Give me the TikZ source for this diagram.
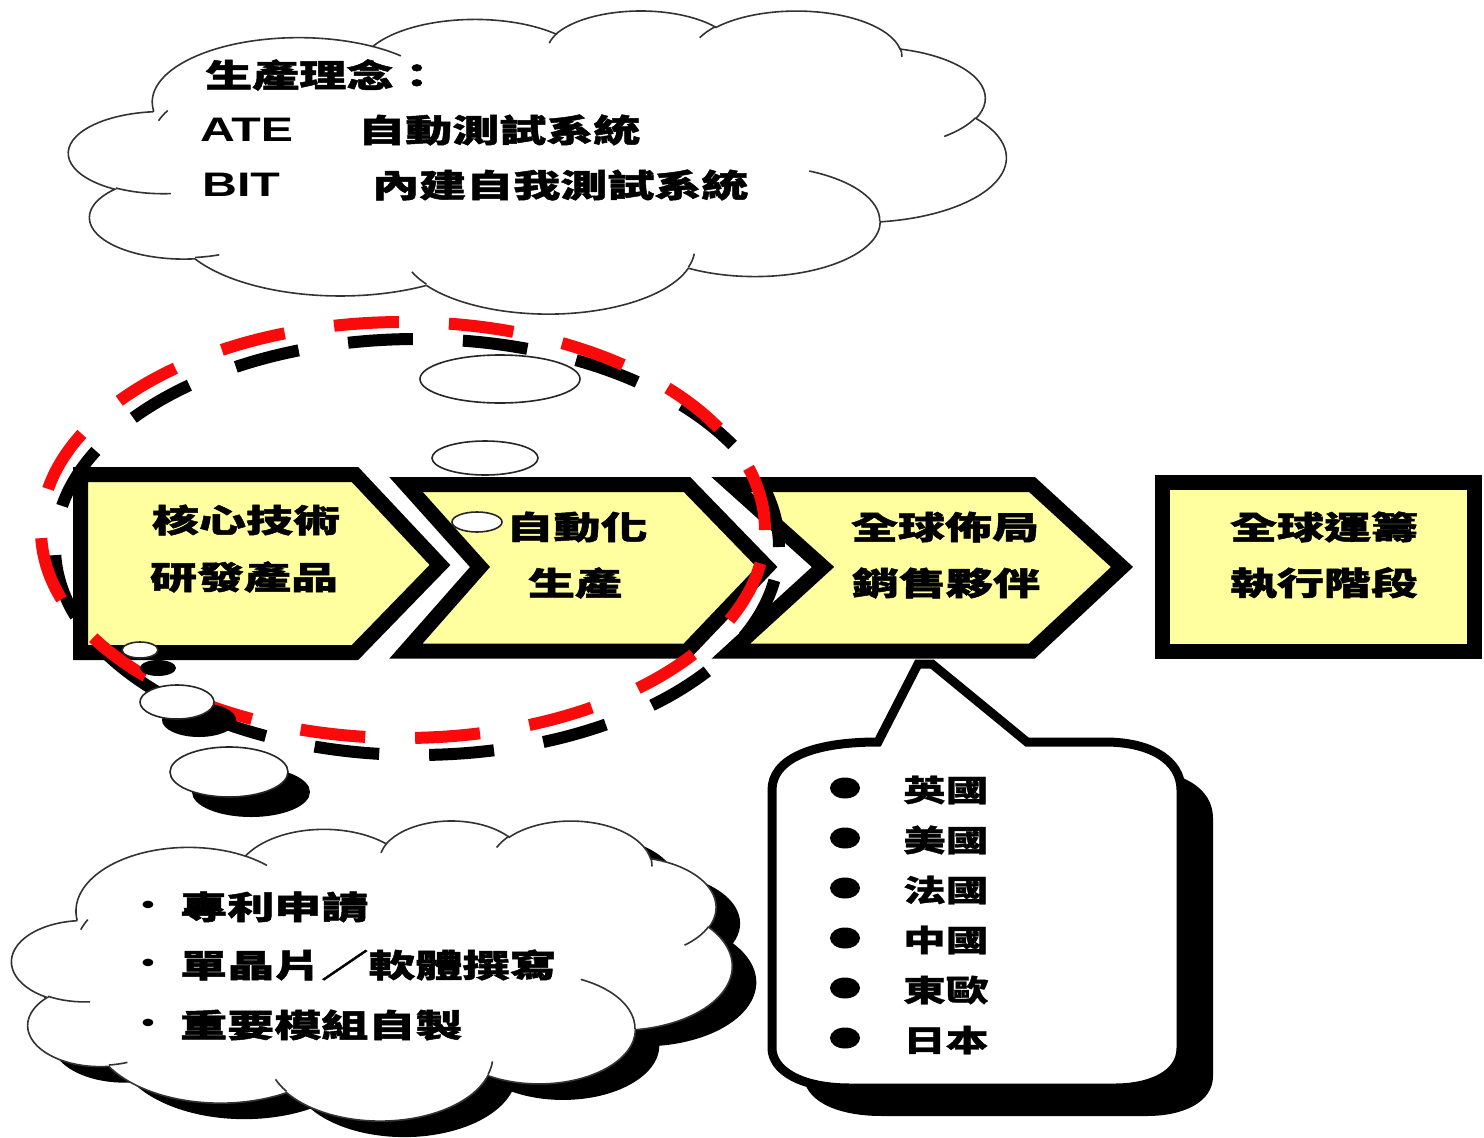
\documentclass[tikz,border=0pt]{standalone}
\usepackage{fontspec}
\usetikzlibrary{shapes.geometric}
\newfontfamily\cjkf[FakeBold=1.5,FakeStretch=1.47]{Noto Sans CJK TC}
\newfontfamily\cjkg[FakeBold=1,FakeStretch=1.42]{Noto Sans CJK TC}
\newfontfamily\latf[FakeStretch=1.42]{Liberation Sans}
\definecolor{chevfill}{RGB}{255,255,160}
\definecolor{dashred}{RGB}{250,10,10}
\tikzset{
  chev/.style={fill=chevfill, draw=black, line width=15pt, line join=miter, miter limit=10},
  cjktxt/.style={inner sep=0pt, font=\cjkf\bfseries\fontsize{32}{36}\selectfont},
  cjksmall/.style={inner sep=0pt, font=\cjkg\bfseries\fontsize{30}{34}\selectfont},
  lattxt/.style={inner sep=0pt, font=\latf\bfseries\fontsize{34}{38}\selectfont},
  cloudline/.style={draw=black!80, line width=1.6pt},
  bubble/.style={ellipse, draw=black!85, line width=1.6pt, fill=white, inner sep=0pt},
  bubshadow/.style={ellipse, fill=black, inner sep=0pt},
  ringdash/.style={line width=12pt, dash pattern=on 65pt off 50pt},
  dot/.style={ellipse, fill=black, inner sep=0pt, minimum width=30pt, minimum height=21pt},
}
% cloud outline in a 100 x 100 box (y downwards)
\newcommand\pptcloud[1]{\path[#1] (9.028,33.264)
  arc[start angle=-187.75, end angle=-59.64, x radius=15.632, y radius=21.273]
  arc[start angle=-152.02, end angle=-45.45, x radius=12.345, y radius=16.822]
  arc[start angle=-153.48, end angle=-37.33, x radius=10.104, y radius=13.762]
  arc[start angle=-139.72, end angle=-10.22, x radius=11.243, y radius=15.266]
  arc[start angle=-74.77, end angle=23.21, x radius=12.345, y radius=16.836]
  arc[start angle=-37.53, end angle=81.86, x radius=15.683, y radius=21.343]
  arc[start angle=0.46, end angle=121.98, x radius=13.391, y radius=18.211]
  arc[start angle=16.84, end angle=146.22, x radius=15.630, y radius=21.331]
  arc[start angle=58.98, end angle=150.18, x radius=17.870, y radius=24.405]
  arc[start angle=-276.69, end angle=-136.90, x radius=10.093, y radius=13.699]
  arc[start angle=-239.65, end angle=-95.89, x radius=10.058, y radius=13.762]
  -- cycle;}
\newcommand\pptcloudinner[1]{\path[#1]
  (10.863,60.595) arc[start angle=85.54, end angle=120.35, x radius=10.058, y radius=13.762]
  (16.037,80.785) arc[start angle=68.23, end angle=83.31, x radius=10.093, y radius=13.699]
  (38.144,90.486) arc[start angle=146.22, end angle=158.47, x radius=15.630, y radius=21.331]
  (66.729,80.442) arc[start angle=4.73, end angle=16.84, x radius=15.630, y radius=21.331]
  (79.002,53.134) arc[start angle=-64.02, end angle=0.46, x radius=13.391, y radius=18.211]
  (96.755,35.542) arc[start angle=23.21, end angle=49.63, x radius=12.345, y radius=16.836]
  (88.713,12.560) arc[start angle=-10.22, end angle=0.83, x radius=11.243, y radius=15.266]
  (67.310,9.148) arc[start angle=-156.30, end angle=-139.72, x radius=11.243, y radius=15.266]
  (51.252,10.926) arc[start angle=-167.72, end angle=-153.48, x radius=10.104, y radius=13.762]
  (32.407,12.019) arc[start angle=-59.64, end angle=-45.74, x radius=15.632, y radius=21.273]
  (9.553,36.549) arc[start angle=-163.19, end angle=-153.45, x radius=15.632, y radius=21.273];}
\begin{document}
\begin{tikzpicture}[x=1pt,y=-1pt]
\useasboundingbox[fill=white] (0,0) rectangle (1484,1138);

% top cloud
\begin{scope}[shift={(69,10)}, x=9.37pt, y=-3.03pt]
  \pptcloud{fill=white, cloudline}
  \pptcloudinner{cloudline}
\end{scope}
\coordinate (topcloud) at (537,162);

% bottom cloud with shadow
\begin{scope}[shift={(36,836)}, x=7.2pt, y=-3.0pt]
  \pptcloud{fill=black}
\end{scope}
\begin{scope}[shift={(12,820)}, x=7.2pt, y=-3.0pt]
  \pptcloud{fill=white, cloudline}
  \pptcloudinner{cloudline}
\end{scope}
\coordinate (botcloud) at (373,970);

% chevrons
\path[chev] (80.5,474.5) -- (355,474.5) -- (440,565) -- (355,652.5) -- (80.5,652.5) -- cycle;
\path[chev] (406,484.5) -- (687,484.5) -- (767,567) -- (687,651) -- (406,651) -- (480,567) -- cycle;
\path[chev] (731,484.5) -- (1032,484.5) -- (1122,567) -- (1032,651) -- (731,651) -- (823,567) -- cycle;
\path[chev] (1162,482) rectangle (1474,651);

% dashed ring with shadow
\draw[ringdash, black] (417,547) ellipse [x radius=362pt, y radius=208pt];
\draw[ringdash, dashred] (403,530) ellipse [x radius=362pt, y radius=208pt];

% thought bubbles towards top cloud
\node[bubble, minimum width=160pt, minimum height=48pt] (ba) at (500,379) {};
\node[bubble, minimum width=106pt, minimum height=34pt] (bb) at (485,458) {};
\node[bubble, minimum width=50pt, minimum height=20pt] (bc) at (477,522) {};

% thought bubbles towards bottom cloud
\node[bubshadow, minimum width=36pt, minimum height=16pt] (bds) at (158,668) {};
\node[bubble, minimum width=36pt, minimum height=16pt] (bd) at (140,650) {};
\node[bubshadow, minimum width=74pt, minimum height=34pt] (bes) at (199,720) {};
\node[bubble, minimum width=74pt, minimum height=34pt] (be) at (177,702) {};
\node[bubshadow, minimum width=118pt, minimum height=50pt] (bfs) at (251,792) {};
\node[bubble, minimum width=118pt, minimum height=50pt] (bf) at (229,772) {};

% callout
\fill[black, shift={(32,28)}] (878,742) -- (1105,742) .. controls (1150,742) and (1181,760) .. (1181,790) -- (1181,1048) .. controls (1181,1075) and (1150,1088) .. (1115,1088) -- (850,1088) .. controls (800,1088) and (772,1070) .. (772,1048) -- (772,790) .. controls (772,760) and (810,742) .. (878,742) -- cycle;
\draw[fill=white, line width=9pt, line join=miter] (878,742) -- (918,664) -- (932,664) -- (1027,742) -- (1105,742) .. controls (1150,742) and (1181,760) .. (1181,790) -- (1181,1048) .. controls (1181,1075) and (1150,1088) .. (1115,1088) -- (850,1088) .. controls (800,1088) and (772,1070) .. (772,1048) -- (772,790) .. controls (772,760) and (810,742) .. (878,742) -- cycle;

% top cloud text
\node[cjktxt, anchor=west] (t1) at (205,75) {生產理念：};
\node[lattxt, anchor=west] (t2) at (200,130) {ATE};
\node[cjktxt, anchor=west] (t3) at (358,130) {自動測試系統};
\node[lattxt, anchor=west] (t4) at (202,185) {BIT};
\node[cjktxt, anchor=west] (t5) at (372,185) {內建自我測試系統};

% chevron text
\node[cjktxt] (c1a) at (246,520) {核心技術};
\node[cjktxt] (c1b) at (244,577) {研發產品};
\node[cjktxt] (c2a) at (577,527) {自動化};
\node[cjktxt] (c2b) at (575,583) {生產};
\node[cjktxt] (c3a) at (945,527) {全球佈局};
\node[cjktxt] (c3b) at (946,583) {銷售夥伴};
\node[cjktxt] (c4a) at (1324,527) {全球運籌};
\node[cjktxt] (c4b) at (1324,583) {執行階段};

% callout list
\foreach \i/\t in {0/英國,1/美國,2/法國,3/中國,4/東歐,5/日本}{
  \node[dot] (d\i) at (845,{788+50*\i}) {};
  \node[cjksmall, anchor=west] (l\i) at (903,{790+50*\i}) {\t};
}

% bottom cloud list
\foreach \i/\y/\t in {0/907/專利申請,1/965/單晶片／軟體撰寫,2/1025/重要模組自製}{
  \node[inner sep=0pt, font=\latf\bfseries\fontsize{26}{30}\selectfont] (bb\i) at (148,\y) {•};
  \node[cjktxt, anchor=west] (bt\i) at (180,\y) {\t};
}
\end{tikzpicture}
\end{document}
